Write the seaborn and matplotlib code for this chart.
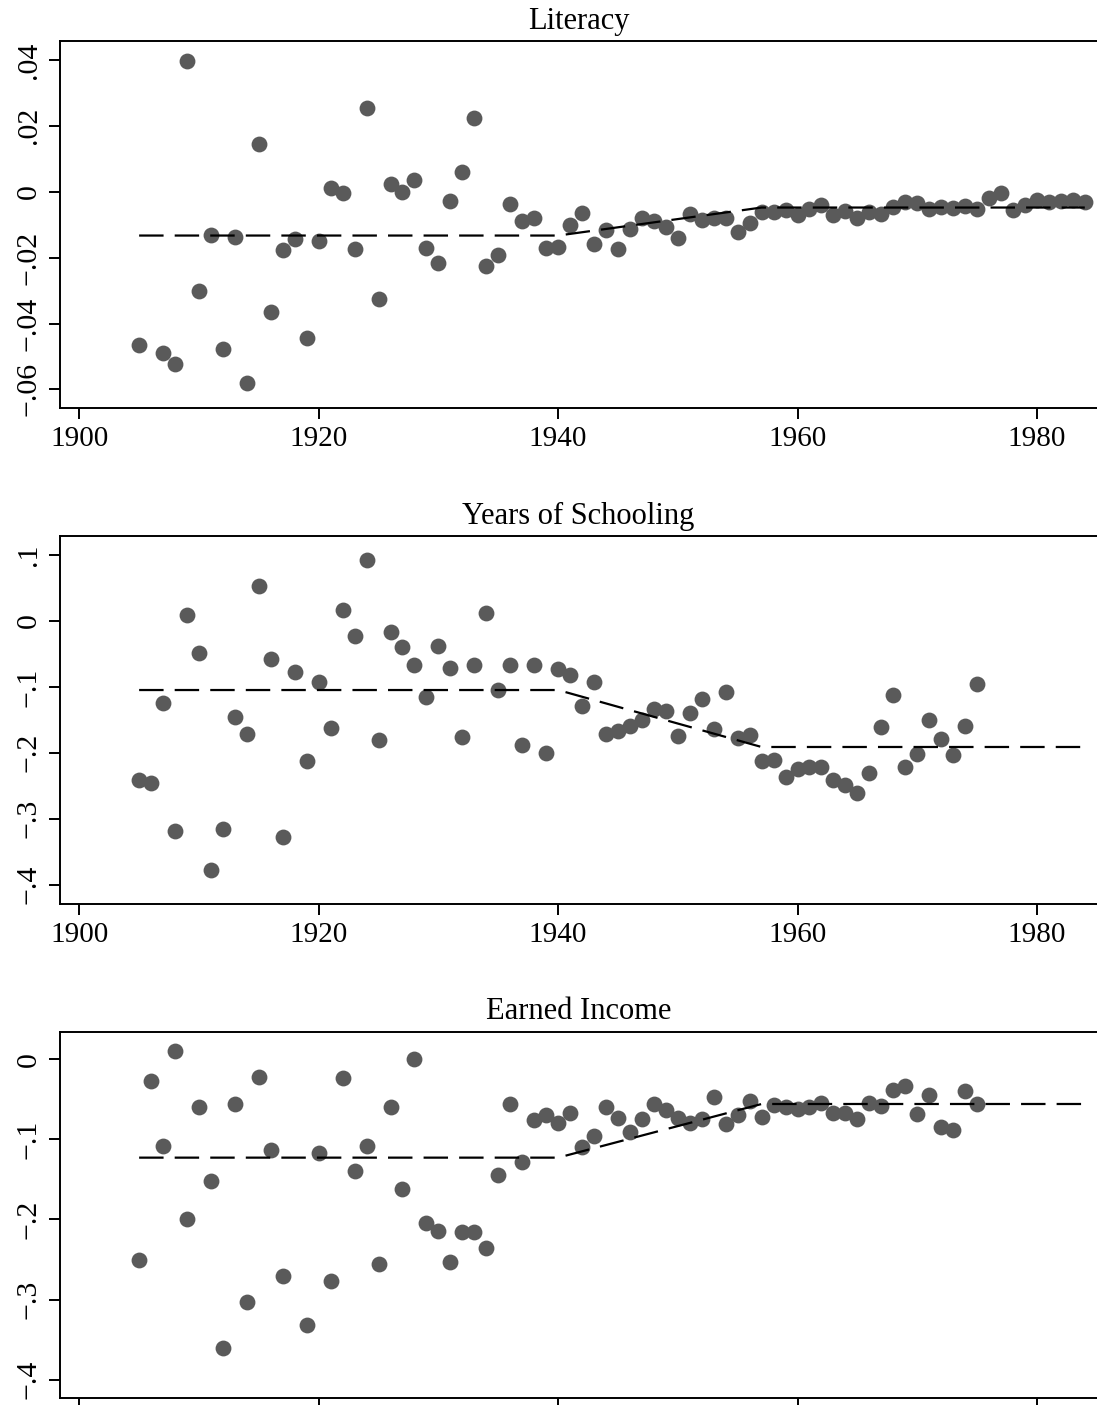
import numpy as np
import pandas as pd
import matplotlib
matplotlib.use('Agg')
import matplotlib.pyplot as plt
import seaborn as sns

# --- data ------------------------------------------------------------------
lit_years = [1905] + list(range(1907, 1985))
lit_values = [
    -0.0466, -0.0491, -0.0523, 0.0397, -0.0301, -0.0132, -0.0477, -0.0137,
    -0.0580, 0.0146, -0.0365, -0.0177, -0.0144, -0.0445, -0.0149, 0.0011,
    -0.0004, -0.0174, 0.0255, -0.0326, 0.0022, -0.0002, 0.0036, -0.0171,
    -0.0217, -0.0028, 0.0060, 0.0223, -0.0225, -0.0191, -0.0036, -0.0089,
    -0.0079, -0.0172, -0.0167, -0.0101, -0.0066, -0.0159, -0.0116, -0.0173,
    -0.0113, -0.0081, -0.0088, -0.0106, -0.0140, -0.0067, -0.0086, -0.0081,
    -0.0081, -0.0123, -0.0094, -0.0062, -0.0062, -0.0056, -0.0071, -0.0051,
    -0.0040, -0.0071, -0.0058, -0.0081, -0.0063, -0.0069, -0.0046, -0.0032,
    -0.0035, -0.0053, -0.0046, -0.0048, -0.0044, -0.0053, -0.0020, -0.0005,
    -0.0056, -0.0040, -0.0025, -0.0030, -0.0028, -0.0025, -0.0030,
]

school_years = list(range(1905, 1976))
school_values = [
    -0.241, -0.246, -0.125, -0.318, 0.009, -0.049, -0.377, -0.315, -0.145,
    -0.172, 0.053, -0.057, -0.327, -0.077, -0.212, -0.093, -0.162, 0.016,
    -0.023, 0.093, -0.180, -0.016, -0.039, -0.066, -0.116, -0.038, -0.071,
    -0.176, -0.067, 0.012, -0.104, -0.066, -0.188, -0.067, -0.200, -0.073,
    -0.082, -0.129, -0.093, -0.171, -0.167, -0.160, -0.150, -0.134, -0.136,
    -0.174, -0.139, -0.118, -0.164, -0.108, -0.178, -0.173, -0.213, -0.211,
    -0.237, -0.224, -0.221, -0.222, -0.241, -0.249, -0.261, -0.231, -0.161,
    -0.113, -0.222, -0.202, -0.150, -0.179, -0.204, -0.160, -0.096,
]

income_years = list(range(1905, 1918)) + list(range(1919, 1976))
income_values = [
    -0.251, -0.027, -0.108, 0.011, -0.199, -0.060, -0.152, -0.361, -0.056,
    -0.303, -0.022, -0.113, -0.270, -0.332, -0.117, -0.277, -0.023, -0.139,
    -0.108, -0.256, -0.060, -0.162, 0.000, -0.205, -0.214, -0.253, -0.216,
    -0.216, -0.236, -0.144, -0.056, -0.128, -0.076, -0.070, -0.079, -0.067,
    -0.110, -0.096, -0.060, -0.073, -0.091, -0.075, -0.056, -0.063, -0.073,
    -0.080, -0.074, -0.047, -0.081, -0.069, -0.052, -0.072, -0.057, -0.059,
    -0.062, -0.060, -0.055, -0.067, -0.067, -0.075, -0.054, -0.058, -0.038,
    -0.033, -0.068, -0.045, -0.085, -0.088, -0.040, -0.056,
]

# piecewise linear fit (dashed line): flat, kink in 1940, flat again from 1957
fit_years = [1905, 1940, 1957, 1984]
lit_fit = [-0.0133, -0.0133, -0.0048, -0.0048]
school_fit = [-0.1047, -0.1047, -0.1911, -0.1911]
income_fit = [-0.1228, -0.1228, -0.0558, -0.0558]

titles = ['Literacy', 'Years of Schooling', 'Earned Income']
x_ticks = [1900, 1920, 1940, 1960, 1980]
lit_ticks = [0.04, 0.02, 0.0, -0.02, -0.04, -0.06]
lit_ticklabels = ['.04', '.02', '0', '\u2212.02', '\u2212.04', '\u2212.06']
school_ticks = [0.1, 0.0, -0.1, -0.2, -0.3, -0.4]
school_ticklabels = ['.1', '0', '\u2212.1', '\u2212.2', '\u2212.3', '\u2212.4']
income_ticks = [0.0, -0.1, -0.2, -0.3, -0.4]
income_ticklabels = ['0', '\u2212.1', '\u2212.2', '\u2212.3', '\u2212.4']

# --- style -------------------------------------------------------------------
sns.set_style('ticks')
plt.rcParams['font.family'] = ['Liberation Serif', 'DejaVu Serif']
plt.rcParams['axes.linewidth'] = 1.4
for key in ['text.color', 'axes.edgecolor', 'axes.labelcolor',
            'xtick.color', 'ytick.color']:
    plt.rcParams[key] = 'black'

fig = plt.figure(figsize=(10.97, 14.05), dpi=100)

# axes boxes in figure fractions (left, bottom, width, height)
positions = [
    [0.0547, 0.7096, 0.9453, 0.2612],
    [0.0547, 0.3566, 0.9453, 0.2619],
    [0.0547, 0.0048, 0.9453, 0.2609],
]
ylims = [(-0.06565, 0.04574), (-0.4292, 0.1289), (-0.4233, 0.0345)]

panels = [
    (lit_years, lit_values, lit_fit, lit_ticks, lit_ticklabels),
    (school_years, school_values, school_fit, school_ticks, school_ticklabels),
    (income_years, income_values, income_fit, income_ticks, income_ticklabels),
]

for i, (yrs, vals, fit, yt, ytl) in enumerate(panels):
    ax = fig.add_axes(positions[i])
    df = pd.DataFrame({'year': yrs, 'value': vals})
    df_fit = pd.DataFrame({'year': fit_years, 'value': fit})

    sns.scatterplot(data=df, x='year', y='value', ax=ax, s=130,
                    color='#5a5a5a', linewidth=0, zorder=2)
    sns.lineplot(data=df_fit, x='year', y='value', ax=ax, color='black',
                 linewidth=1.6, linestyle=(0, (11, 5)), zorder=3)

    ax.set_xlim(1898.39, 1985.02)
    ax.set_ylim(*ylims[i])
    ax.set_xticks(x_ticks)
    ax.set_xticklabels([str(t) for t in x_ticks], fontsize=21)
    ax.set_yticks(yt)
    ax.set_yticklabels(ytl, fontsize=21.5, rotation=90, va='center')
    ax.tick_params(axis='both', direction='out', length=8, width=1.4, pad=5)
    ax.set_xlabel('')
    ax.set_ylabel('')
    ax.spines['right'].set_visible(False)
    ax.set_title(titles[i], fontsize=22, pad=9)
    ax.grid(False)
    if i == 2:
        # the reference is cropped just below the last axis line
        ax.tick_params(axis='x', labelbottom=False)

fig.savefig('out.png', dpi=100)
